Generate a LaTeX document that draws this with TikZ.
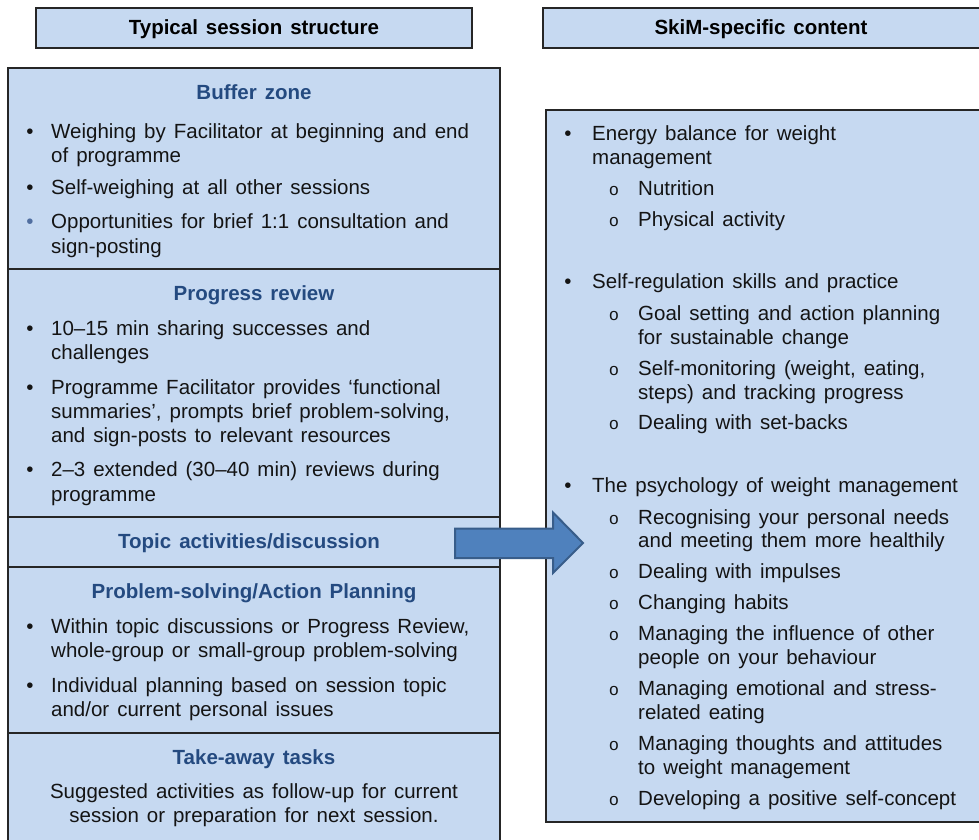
\documentclass[tikz,border=0pt]{standalone}
\usepackage{fontspec}
\setmainfont{Liberation Sans}[WordSpace=1.4]
\setmonofont{Liberation Mono}
\definecolor{boxfill}{RGB}{198,217,241}
\definecolor{headblue}{RGB}{36,74,128}
\definecolor{arrowfill}{RGB}{79,129,189}
\definecolor{arrowline}{RGB}{56,93,138}
\definecolor{edge}{RGB}{38,38,38}
\definecolor{dotblue}{RGB}{80,110,160}
\newcommand\myline[4]{\node[txt] (#1) at (#2,#3) {#4};}
\newcommand\mydot[3]{\node[dot] (#1) at (#2,#3) {•};}
\newcommand\mycirc[3]{\node[circ] (#1) at (#2,#3) {o};}
\begin{document}
\begin{tikzpicture}[x=1pt,y=-1pt,
  box/.style={draw=edge, line width=1.5pt, fill=boxfill, inner sep=0pt, outer sep=0pt},
  divline/.style={draw=edge, line width=1.5pt},
  txt/.style={font=\fontsize{20.5}{25}\selectfont, inner sep=0pt, anchor=base west, text=black!92},
  dot/.style={txt, anchor=base},
  circ/.style={inner sep=0pt, anchor=base, font=\fontsize{17}{20}\ttfamily, text=black!92},
  head/.style={inner sep=0pt, anchor=base, font=\fontsize{20.5}{25}\selectfont\bfseries, text=black},
  sect/.style={head, text=headblue},
  ctxt/.style={txt, anchor=base},
  blockarrow/.style={fill=arrowfill, draw=arrowline, line width=2pt, line join=miter}
]
\useasboundingbox (0,0) rectangle (979,839);

% headers
\node[box, minimum width=436pt, minimum height=40pt] (hleft) at (254,28) {};
\node[box, minimum width=440pt, minimum height=40pt] (hright) at (763,28) {};
\node[head] (hleftt) at (254,34) {Typical session structure};
\node[head] (hrightt) at (761,34) {SkiM-specific content};

% main boxes
\node[box, minimum width=492pt, minimum height=776pt] (lmain) at (254,456) {};
\node[box, minimum width=438pt, minimum height=712pt] (rmain) at (765,466) {};

% dividers in left box
\foreach \yy/\nm in {269/da, 517/db, 567/dc, 733/dd}
  \draw[divline] (lmain.west |- 0,\yy) coordinate (\nm1) -- (lmain.east |- 0,\yy) coordinate (\nm2);

% ---- left column text
\node[sect] (s1) at (254,99) {Buffer zone};
\mydot{b1}{30}{138}
\myline{t1}{51}{138}{Weighing by Facilitator at beginning and end}
\myline{t2}{51}{162}{of programme}
\mydot{b2}{30}{194}
\myline{t3}{51}{194}{Self-weighing at all other sessions}
\node[dot, text=dotblue] (b3) at (30,228) {•};
\myline{t4}{51}{228}{Opportunities for brief 1:1 consultation and}
\myline{t5}{51}{253}{sign-posting}

\node[sect] (s2) at (254,300) {Progress review};
\mydot{b4}{30}{335}
\myline{t6}{51}{335}{10–15 min sharing successes and}
\myline{t7}{51}{359}{challenges}
\mydot{b5}{30}{394}
\myline{t8}{51}{394}{Programme Facilitator provides ‘functional}
\myline{t9}{51}{418}{summaries’, prompts brief problem-solving,}
\myline{t10}{51}{442}{and sign-posts to relevant resources}
\mydot{b6}{30}{476}
\myline{t11}{51}{476}{2–3 extended (30–40 min) reviews during}
\myline{t12}{51}{501}{programme}

\node[sect] (s3) at (249,548) {Topic activities/discussion};

\node[sect] (s4) at (254,598) {Problem-solving/Action Planning};
\mydot{b7}{30}{633}
\myline{t13}{51}{633}{Within topic discussions or Progress Review,}
\myline{t14}{51}{657}{whole-group or small-group problem-solving}
\mydot{b8}{30}{692}
\myline{t15}{51}{692}{Individual planning based on session topic}
\myline{t16}{51}{716}{and/or current personal issues}

\node[sect] (s5) at (254,764) {Take-away tasks};
\node[ctxt] (t17) at (254,798) {Suggested activities as follow-up for current};
\node[ctxt] (t18) at (254,822) {session or preparation for next session.};

% ---- right column text
\mydot{r1}{568}{140}
\myline{u1}{592}{140}{Energy balance for weight}
\myline{u2}{592}{164}{management}
\mycirc{c1}{614}{195}
\myline{u3}{638}{195}{Nutrition}
\mycirc{c2}{614}{226}
\myline{u4}{638}{226}{Physical activity}

\mydot{r2}{568}{288}
\myline{u5}{592}{288}{Self-regulation skills and practice}
\mycirc{c3}{614}{320}
\myline{u6}{638}{320}{Goal setting and action planning}
\myline{u7}{638}{344}{for sustainable change}
\mycirc{c4}{614}{375}
\myline{u8}{638}{375}{Self-monitoring (weight, eating,}
\myline{u9}{638}{399}{steps) and tracking progress}
\mycirc{c5}{614}{429}
\myline{u10}{638}{429}{Dealing with set-backs}

\mydot{r3}{568}{492}
\myline{u11}{592}{492}{The psychology of weight management}
\mycirc{c6}{614}{524}
\myline{u12}{638}{524}{Recognising your personal needs}
\myline{u13}{638}{547}{and meeting them more healthily}
\mycirc{c7}{614}{578}
\myline{u14}{638}{578}{Dealing with impulses}
\mycirc{c8}{614}{609}
\myline{u15}{638}{609}{Changing habits}
\mycirc{c9}{614}{640}
\myline{u16}{638}{640}{Managing the influence of other}
\myline{u17}{638}{664}{people on your behaviour}
\mycirc{c10}{614}{695}
\myline{u18}{638}{695}{Managing emotional and stress-}
\myline{u19}{638}{719}{related eating}
\mycirc{c11}{614}{750}
\myline{u20}{638}{750}{Managing thoughts and attitudes}
\myline{u21}{638}{774}{to weight management}
\mycirc{c12}{614}{805}
\myline{u22}{638}{805}{Developing a positive self-concept}

% ---- block arrow from left column to right column
\coordinate (atail) at (455,543);
\coordinate (atip) at (583,543);
\draw[blockarrow] (atail) ++(0,-14.5) -- ++(98,0) -- ++(0,-16) -- (atip)
  -- ++(-30,30) -- ++(0,-15) -- ++(-98,0) -- cycle;
\end{tikzpicture}
\end{document}
